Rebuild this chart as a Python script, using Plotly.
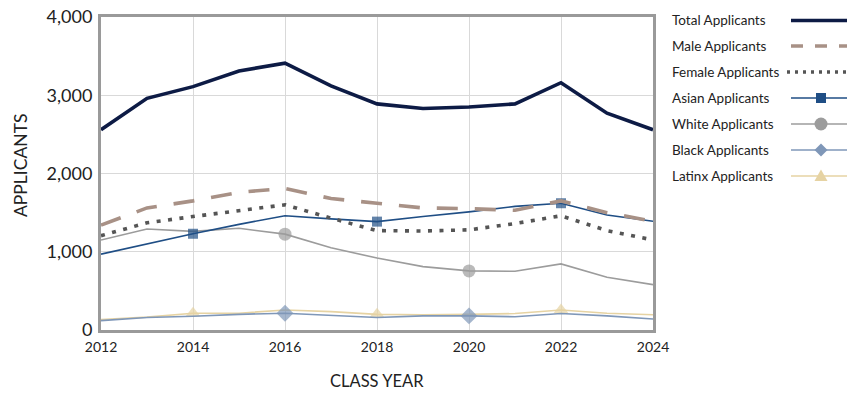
import plotly.graph_objects as go

# Applicant counts by class year
years = list(range(2012, 2025))
total = [2560, 2960, 3110, 3310, 3410, 3120, 2890, 2830, 2850, 2890, 3160, 2770, 2560]
male = [1340, 1560, 1650, 1760, 1810, 1680, 1620, 1560, 1550, 1530, 1650, 1500, 1390]
female = [1205, 1370, 1450, 1520, 1600, 1430, 1270, 1265, 1280, 1360, 1460, 1270, 1150]
asian = [970, 1100, 1230, 1350, 1460, 1420, 1385, 1450, 1510, 1580, 1620, 1470, 1390]
white = [1150, 1290, 1260, 1300, 1225, 1050, 920, 810, 755, 750, 845, 675, 580]
black = [120, 160, 175, 200, 215, 190, 160, 180, 180, 170, 210, 180, 140]
latinx = [135, 165, 215, 215, 255, 235, 200, 195, 200, 210, 255, 215, 195]

asian_marked = [2014, 2018, 2022]
white_marked = [2016, 2020]
black_marked = [2016, 2020]
latinx_marked = [2014, 2018, 2022]

y_ticks = [0, 1000, 2000, 3000, 4000]
y_tick_text = ["0", "1,000", "2,000", "3,000", "4,000"]
x_ticks = [2012, 2014, 2016, 2018, 2020, 2022, 2024]

FONT = "Lato"
TEXT = "#222222"

series = [
    # name, values, color, width, plot dash, key dash, key start px, symbol, marker size, marked years
    ("Total Applicants", total, "#0d1b45", 3.6, "solid", "solid", 791, None, 0, []),
    ("Male Applicants", male, "#a89186", 3.6, "21px,17px", "12px,12px", 791, None, 0, []),
    ("Female Applicants", female, "#555555", 3.6, "4px,7.5px", "3px,5px", 787, None, 0, []),
    ("Asian Applicants", asian, "#1f4e85", 1.6, "solid", "solid", 791, "square", 10, asian_marked),
    ("White Applicants", white, "#9c9c9c", 1.6, "solid", "solid", 791, "circle", 13, white_marked),
    ("Black Applicants", black, "#7f97b8", 1.6, "solid", "solid", 791, "diamond", 13, black_marked),
    ("Latinx Applicants", latinx, "#e6d3a3", 1.6, "solid", "solid", 791, "triangle-up", 13, latinx_marked),
]

W, H = 847, 393
L, R, T, B = 101, 194, 17, 63
PW, PH = W - L - R, H - T - B


def px(x):
    """Horizontal pixel -> paper fraction."""
    return (x - L) / PW


def py(y):
    """Vertical pixel (from top) -> paper fraction."""
    return (H - B - y) / PH


fig = go.Figure()

# Data lines, drawn bottom-up so the totals sit on top
for name, vals, color, width, dash, _kd, _ks, symbol, msize, marked in reversed(series):
    trace = dict(
        x=years, y=vals, name=name, showlegend=False,
        line=dict(color=color, width=width, dash=dash),
    )
    if symbol:
        sizes = [msize if yr in marked else 0 for yr in years]
        trace.update(mode="lines+markers",
                     marker=dict(symbol=symbol, size=sizes, color=color, line=dict(width=0)))
    else:
        trace.update(mode="lines")
    fig.add_trace(go.Scatter(**trace))

# Key on the right: label text, then a line sample with its marker
row_y = [20.5, 46, 72, 98, 124, 150, 176]
shapes, annotations = [], []
for (name, vals, color, width, dash, kdash, kstart, symbol, msize, marked), ry in zip(series, row_y):
    shapes.append(dict(type="line", xref="paper", yref="paper",
                       x0=px(kstart), x1=px(880), y0=py(ry), y1=py(ry),
                       line=dict(color=color, width=width, dash=kdash)))
    if symbol:
        cx, r = 821, msize / 2
        mk = dict(xref="paper", yref="paper", fillcolor=color, line=dict(width=0))
        if symbol == "square":
            mk.update(type="rect", x0=px(cx - r), x1=px(cx + r), y0=py(ry - r), y1=py(ry + r))
        elif symbol == "circle":
            mk.update(type="circle", x0=px(cx - r), x1=px(cx + r), y0=py(ry - r), y1=py(ry + r))
        elif symbol == "diamond":
            mk.update(type="path", path=(
                f"M {px(cx - r)} {py(ry)} L {px(cx)} {py(ry - r)} "
                f"L {px(cx + r)} {py(ry)} L {px(cx)} {py(ry + r)} Z"))
        else:
            mk.update(type="path", path=(
                f"M {px(cx - r)} {py(ry + r * 0.75)} L {px(cx)} {py(ry - r)} "
                f"L {px(cx + r)} {py(ry + r * 0.75)} Z"))
        shapes.append(mk)
    annotations.append(dict(
        x=px(670), y=py(ry), xref="paper", yref="paper", text=name, showarrow=False,
        xanchor="left", yanchor="middle",
        font=dict(family=FONT, size=13.5, color=TEXT),
    ))

annotations.append(dict(
    x=px(377), y=py(381), xref="paper", yref="paper", text="CLASS YEAR", showarrow=False,
    xanchor="center", yanchor="middle",
    font=dict(family=FONT, size=16.5, color=TEXT),
))
annotations.append(dict(
    x=px(20), y=py(165), xref="paper", yref="paper", text="APPLICANTS", showarrow=False,
    xanchor="center", yanchor="middle", textangle=-90,
    font=dict(family=FONT, size=17.5, color=TEXT),
))

fig.update_layout(
    width=W, height=H, autosize=False,
    margin=dict(l=L, r=R, t=T, b=B, pad=0),
    paper_bgcolor="white", plot_bgcolor="white",
    shapes=shapes, annotations=annotations,
    xaxis=dict(
        range=[2012, 2024], automargin=False,
        tickmode="array", tickvals=x_ticks,
        showgrid=True, gridcolor="#d9d9d9", gridwidth=1,
        showline=True, linecolor="#9a9a9a", linewidth=3, mirror=True,
        ticks="", ticklabelstandoff=2, tickfont=dict(family=FONT, size=14, color=TEXT),
        zeroline=False,
    ),
    yaxis=dict(
        range=[0, 4000], automargin=False,
        tickmode="array", tickvals=y_ticks, ticktext=y_tick_text,
        showgrid=True, gridcolor="#d9d9d9", gridwidth=1,
        showline=True, linecolor="#9a9a9a", linewidth=3, mirror=True,
        ticks="", ticklabelstandoff=2, tickfont=dict(family=FONT, size=18, color=TEXT),
        zeroline=False,
    ),
)

fig.write_html("out.html")
